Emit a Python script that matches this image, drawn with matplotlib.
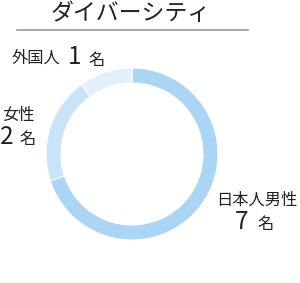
import matplotlib.pyplot as plt
from matplotlib.lines import Line2D

plt.rcParams['font.family'] = ['Noto Sans CJK JP', 'DejaVu Sans']

title = 'ダイバーシティ'
labels = ['日本人男性', '女性', '外国人']
counts = [7, 2, 1]
colors = ['#aad5f4', '#c9e4f8', '#e2f0fb']

W, H = 300, 283
fig = plt.figure(figsize=(W / 100, H / 100), dpi=100)

# donut: center (132,154) px, outer radius 86 px
cx, cy, r = 132, 154, 86
ax = fig.add_axes([(cx - r) / W, 1 - (cy + r) / H, 2 * r / W, 2 * r / H])
ax.pie(counts, colors=colors, startangle=90, counterclock=False,
       radius=1.0, wedgeprops=dict(width=15 / 86, edgecolor='white', linewidth=0.8))
ax.set_xlim(-1, 1)
ax.set_ylim(-1, 1)
ax.set_aspect('equal')
ax.axis('off')

# title and rule
fig.text(131 / W, 1 - 14 / H, title, ha='center', va='center', fontsize=16.5, color='#222222')
fig.add_artist(Line2D([17 / W, 248 / W], [1 - 30 / H, 1 - 30 / H], color='#999999', lw=1.2))

def px(x, y):
    return x / W, 1 - y / H

txt = dict(va='center', color='#222222')
num = dict(va='center', color='#222222', fontsize=17.5)

# 外国人 1 名
fig.text(*px(12, 58), labels[2], ha='left', fontsize=11.7, **txt)
fig.text(*px(68, 57), str(counts[2]), ha='left', **num)
fig.text(*px(88, 60), '名', ha='left', fontsize=11.7, **txt)

# 女性 2 名
fig.text(*px(2, 115), labels[1], ha='left', fontsize=11.7, **txt)
fig.text(*px(0, 137), str(counts[1]), ha='left', **num)
fig.text(*px(19, 139), '名', ha='left', fontsize=11.7, **txt)

# 日本人男性 7 名
fig.text(*px(257, 200), labels[0], ha='center', fontsize=11.7, **txt)
fig.text(*px(235, 222), str(counts[0]), ha='left', **num)
fig.text(*px(257, 224), '名', ha='left', fontsize=11.7, **txt)

fig.savefig('out.png', dpi=100)
